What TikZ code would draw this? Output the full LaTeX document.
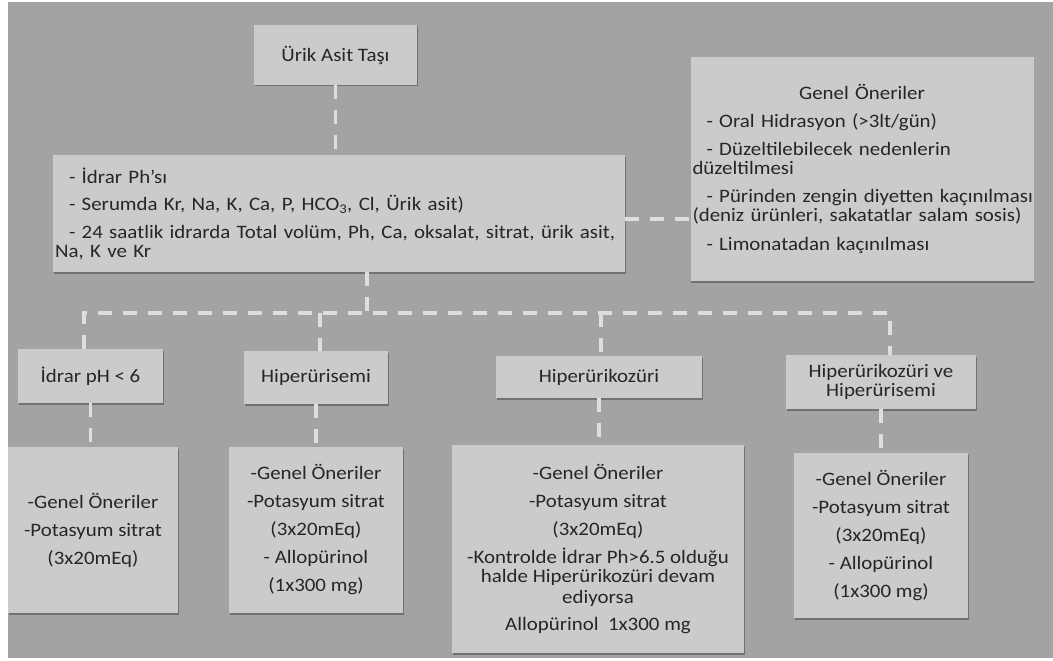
\documentclass[tikz,border=0pt]{standalone}
\usepackage{fontspec}
\setmainfont{Carlito}[FakeStretch=1.1]
\usetikzlibrary{shadows}
\definecolor{bggray}{HTML}{A3A3A3}
\definecolor{boxgray}{HTML}{CBCBCB}
\definecolor{linkgray}{HTML}{DEDEDE}
\definecolor{inkgray}{HTML}{262626}
\tikzset{
  box/.style={fill=boxgray, inner sep=2pt, text=inkgray, align=center,
    font=\fontsize{19}{19}\selectfont,
    drop shadow={shadow xshift=0.8pt, shadow yshift=-1.5pt, opacity=0.3, fill=black}},
  link/.style={draw=linkgray, line width=3.5pt, dash pattern=on 14pt off 11pt}
}
\begin{document}
\begin{tikzpicture}[x=1pt, y=-1pt]
\useasboundingbox (0,0) rectangle (1053,661);
\fill[white] (0,0) rectangle (1053,661);
\fill[bggray] (8,2) rectangle (1053,658);

% upper part
\node[box, minimum width=163pt, minimum height=60pt] (top) at (335.5,55) {Ürik Asit Taşı};
\node[box, minimum width=572pt, minimum height=117pt, text width=568pt, align=left] (big) at (339,213.5) {%
  \hspace*{14pt}- İdrar Ph’sı\\[8.5pt]
  \hspace*{14pt}- Serumda Kr, Na, K, Ca, P, HCO\textsubscript{3}, Cl, Ürik asit)\\[8.5pt]
  \mbox{\hspace*{14pt}- 24 saatlik idrarda Total volüm, Ph, Ca, oksalat, sitrat, ürik asit,}\\
  Na, K ve Kr};
\node[box, minimum width=342pt, minimum height=224pt, text width=339pt, align=left] (genel) at (862,169) {%
  \makebox[\linewidth]{Genel Öneriler}\\[9.5pt]
  \hspace*{14pt}- Oral Hidrasyon (>3lt/gün)\\[9pt]
  \hspace*{14pt}- Düzeltilebilecek nedenlerin\\
  düzeltilmesi\\[9pt]
  \mbox{\hspace*{14pt}- Pürinden zengin diyetten kaçınılması}\\
  (deniz ürünleri, sakatatlar salam sosis)\\[10pt]
  \hspace*{14pt}- Limonatadan kaçınılması};

% second row
\node[box, minimum width=145pt, minimum height=54pt] (c1) at (90.5,376) {İdrar pH < 6};
\node[box, minimum width=144pt, minimum height=53pt] (c2) at (316,377.5) {Hiperürisemi};
\node[box, minimum width=206pt, minimum height=42pt] (c3) at (599,377) {Hiperürikozüri};
\node[box, minimum width=190pt, minimum height=54pt] (c4) at (881,382) {Hiperürikozüri ve\\Hiperürisemi};

% treatment boxes
\node[box, minimum width=170pt, minimum height=166pt] (b1) at (93,530) {%
  -Genel Öneriler\\[9pt]-Potasyum sitrat\\[9pt](3x20mEq)};
\node[box, minimum width=174pt, minimum height=166pt] (b2) at (316,530) {%
  -Genel Öneriler\\[9pt]-Potasyum sitrat\\[9pt](3x20mEq)\\[9pt]- Allopürinol\\[9pt](1x300 mg)};
\node[box, minimum width=292pt, minimum height=208pt] (b3) at (598,549) {%
  -Genel Öneriler\\[9pt]-Potasyum sitrat\\[9pt](3x20mEq)\\[9pt]%
  -Kontrolde İdrar Ph>6.5 olduğu\\halde Hiperürikozüri devam\\[1.5pt]ediyorsa\\[8pt]%
  Allopürinol~~1x300 mg};
\node[box, minimum width=174pt, minimum height=165pt] (b4) at (881,535.5) {%
  -Genel Öneriler\\[9pt]-Potasyum sitrat\\[9pt](3x20mEq)\\[9pt]- Allopürinol\\[9pt](1x300 mg)};

% connectors
\draw[link] (top.south) -- (top.south |- big.north);
\draw[link] ([yshift=-5.5pt]big.east) -- ([yshift=-5.5pt]big.east -| genel.west);
\coordinate (hub) at (367,313);
\coordinate (busL) at (84,313);
\coordinate (busR) at (890,313);
\coordinate (tapB) at (320,313);
\coordinate (tapC) at (601,313);
\draw[link] (big.south -| hub) -- (hub);
\draw[link] (c1.north -| busL) -- (busL) -- (busR) -- (c4.north -| busR);
\draw[link] (tapB) -- (c2.north -| tapB);
\draw[link] (tapC) -- (c3.north -| tapC);
\draw[link] (c1.south) -- (c1.south |- b1.north);
\draw[link] (c2.south) -- (c2.south |- b2.north);
\draw[link] (c3.south) -- (c3.south |- b3.north);
\draw[link] (c4.south) -- (c4.south |- b4.north);
\end{tikzpicture}
\end{document}
